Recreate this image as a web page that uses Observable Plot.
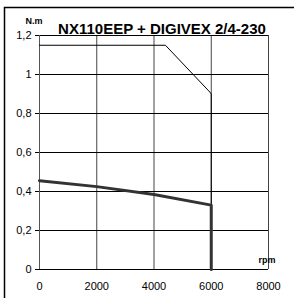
<!DOCTYPE html>
<html><head><meta charset="utf-8">
<script src="https://cdn.jsdelivr.net/npm/d3@7"></script>
<script src="https://cdn.jsdelivr.net/npm/@observablehq/plot@0.6"></script>
<style>body{margin:0;background:#fff}svg{display:block}</style>
</head><body><div id="chart"></div>
<script>
const title = "NX110EEP + DIGIVEX 2/4-230";
const yUnit = "N.m";
const xUnit = "rpm";
const xTicks = [0, 2000, 4000, 6000, 8000];
const yTicks = [0, 0.2, 0.4, 0.6, 0.8, 1, 1.2];
// peak torque curve (thin)
const peakRpm = [0, 4400, 5950, 6000, 6000];
const peakTorque = [1.15, 1.15, 0.91, 0.90, 0];
// continuous torque curve (thick)
const contRpm = [0, 2000, 4000, 6000, 6000];
const contTorque = [0.455, 0.425, 0.385, 0.33, 0];

const peak = peakRpm.map((x, i) => ({x, y: peakTorque[i]}));
const cont = contRpm.map((x, i) => ({x, y: contTorque[i]}));
const fmt = d => String(d).replace(".", ",");

const plot = Plot.plot({
  width: 294, height: 298,
  marginLeft: 39, marginRight: 26, marginTop: 35, marginBottom: 29,
  style: {fontFamily: "Liberation Sans, Arial, sans-serif", fontSize: "11px", color: "#000", background: "#fff"},
  x: {domain: [0, 8000], ticks: xTicks, tickFormat: fmt, label: null},
  y: {domain: [0, 1.2], ticks: yTicks, tickFormat: fmt, label: null},
  marks: [
    Plot.ruleX(xTicks.slice(1), {stroke: "#444", strokeWidth: 1}),
    Plot.ruleY(yTicks, {stroke: "#000", strokeWidth: 1}),
    Plot.axisY({ticks: yTicks, tickFormat: fmt, tickSize: 4, tickPadding: 4, fontSize: 11}),
    Plot.axisX({ticks: xTicks, tickFormat: fmt, tickSize: 0, tickPadding: 13, fontSize: 11}),
    Plot.ruleX([0], {stroke: "#555", strokeWidth: 1}),
    Plot.line(peak, {x: "x", y: "y", stroke: "#000", strokeWidth: 1}),
    Plot.line(cont, {x: "x", y: "y", stroke: "#333", strokeWidth: 3}),
    Plot.text([title], {frameAnchor: "top", dy: -12, dx: 8, fontWeight: "bold", fontSize: 15, fill: "#000"}),
    Plot.text([yUnit], {frameAnchor: "top-left", dx: -14, dy: -18, fontWeight: "bold", fontSize: 9, fill: "#000"}),
    Plot.text([xUnit], {frameAnchor: "bottom-right", dx: 7, dy: -7, fontWeight: "bold", fontSize: 9, fill: "#000"})
  ]
});
const svg = d3.select(plot);
svg.insert("rect", ":first-child").attr("x", 4.5).attr("y", 7.5).attr("width", 300).attr("height", 300)
  .attr("fill", "none").attr("stroke", "#000").attr("stroke-width", 1.5);
document.getElementById("chart").appendChild(plot);
</script></body></html>
